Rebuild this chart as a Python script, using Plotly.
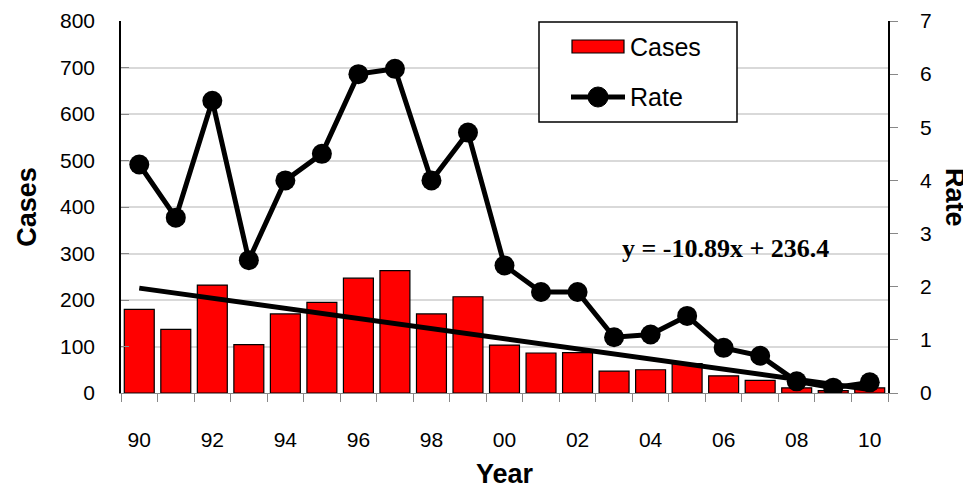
import plotly.graph_objects as go

years = ["90","91","92","93","94","95","96","97","98","99","00",
         "01","02","03","04","05","06","07","08","09","10"]
cases = [180, 137, 232, 104, 170, 195, 247, 263, 170, 207, 103,
         86, 87, 47, 50, 63, 37, 27, 11, 5, 11]
rate = [4.3, 3.3, 5.5, 2.5, 4.0, 4.5, 6.0, 6.1, 4.0, 4.9, 2.4,
        1.9, 1.9, 1.05, 1.1, 1.45, 0.85, 0.7, 0.22, 0.1, 0.2]
trend_slope = -10.89
trend_intercept = 236.4
cases_ticks = [0, 100, 200, 300, 400, 500, 600, 700, 800]
rate_ticks = [0, 1, 2, 3, 4, 5, 6, 7]

xs = list(range(len(years)))
trend = [trend_slope * (i + 1) + trend_intercept for i in xs]

sans = "Liberation Sans, Arial, sans-serif"
serif = "Liberation Serif, Times New Roman, serif"

W, H = 971, 487
ML, MR, MT, MB = 113, 91, 13, 102
PW = W - ML - MR
PH = H - MT - MB


def px(x):
    return (x - ML) / PW


def py(y):
    return (H - MB - y) / PH


fig = go.Figure()
fig.add_trace(go.Bar(
    x=xs, y=cases, name="Cases",
    marker=dict(color="#ff0000", line=dict(color="black", width=1.2)),
    yaxis="y", showlegend=False))
fig.add_trace(go.Scatter(
    x=xs, y=trend, mode="lines", name="trend",
    line=dict(color="black", width=5), yaxis="y", showlegend=False,
    hoverinfo="skip"))
fig.add_trace(go.Scatter(
    x=xs, y=rate, mode="lines+markers", name="Rate",
    line=dict(color="black", width=5),
    marker=dict(color="black", size=20),
    yaxis="y2", showlegend=False))

# manual legend (figure pixel positions)
lx0, lx1, ly0, ly1 = 531, 729, 14, 114
shapes = [
    dict(type="rect", xref="paper", yref="paper",
         x0=px(lx0), x1=px(lx1), y0=py(ly1), y1=py(ly0),
         line=dict(color="black", width=1.5), fillcolor="white", layer="above"),
    dict(type="rect", xref="paper", yref="paper",
         x0=px(564), x1=px(616), y0=py(45), y1=py(32),
         line=dict(color="black", width=1.2), fillcolor="#ff0000", layer="above"),
    dict(type="line", xref="paper", yref="paper",
         x0=px(563), x1=px(617), y0=py(89), y1=py(89),
         line=dict(color="black", width=5), layer="above"),
    dict(type="circle", xref="paper", yref="paper",
         x0=px(580), x1=px(600), y0=py(99), y1=py(79),
         line=dict(color="black", width=1), fillcolor="black", layer="above"),
]

annotations = [
    dict(text="Cases", x=px(620), y=py(39), xref="paper", yref="paper",
         xanchor="left", yanchor="middle", showarrow=False,
         font=dict(family=sans, size=25)),
    dict(text="Rate", x=px(620), y=py(89), xref="paper", yref="paper",
         xanchor="left", yanchor="middle", showarrow=False,
         font=dict(family=sans, size=25)),
    dict(text="<b>Rate</b>", textangle=90, x=px(947), y=py(189),
         xref="paper", yref="paper", showarrow=False,
         xanchor="center", yanchor="middle",
         font=dict(family=sans, size=27)),
    dict(text="<b>y = -10.89x + 236.4</b>", x=px(717), y=py(240),
         xref="paper", yref="paper", showarrow=False,
         xanchor="center", yanchor="middle",
         font=dict(family=serif, size=26)),
]

fig.update_layout(
    width=W, height=H,
    margin=dict(l=ML, r=MR, t=MT, b=MB, autoexpand=False),
    plot_bgcolor="white", paper_bgcolor="white",
    bargap=0.18,
    font=dict(family=sans, size=21, color="black"),
    showlegend=False,
    xaxis=dict(
        range=[-0.5, len(years) - 0.5],
        tickvals=xs[::2], ticktext=years[::2],
        ticks="outside", ticklen=28, tickcolor="rgba(0,0,0,0)",
        minor=dict(tick0=-0.5, dtick=1, ticks="outside", ticklen=8,
                   tickcolor="#888888", tickwidth=1),
        showline=True, linecolor="#888888", linewidth=1,
        showgrid=False, zeroline=False, automargin=False,
        tickfont=dict(family=sans, size=21),
        title=dict(text="<b>Year</b>", font=dict(family=sans, size=27), standoff=13),
    ),
    yaxis=dict(
        range=[0, 800], tickvals=cases_ticks,
        ticktext=[str(v) for v in cases_ticks],
        ticks="inside", ticklen=8, tickcolor="#888888",
        ticklabelstandoff=20,
        showline=True, linecolor="black", linewidth=1.5,
        showgrid=True, gridcolor="#d9d9d9", gridwidth=1.5,
        zeroline=False, automargin=False,
        tickfont=dict(family=sans, size=21),
        title=dict(text="<b>Cases</b>", font=dict(family=sans, size=27), standoff=16),
    ),
    yaxis2=dict(
        range=[0, 7], tickvals=rate_ticks,
        ticktext=[str(v) for v in rate_ticks],
        overlaying="y", side="right",
        ticks="outside", ticklen=8, tickcolor="#888888",
        ticklabelstandoff=18,
        showline=True, linecolor="black", linewidth=1.5,
        showgrid=False, zeroline=False, automargin=False,
        tickfont=dict(family=sans, size=21),
    ),
    shapes=shapes,
    annotations=annotations,
)
fig.write_html("out.html")
